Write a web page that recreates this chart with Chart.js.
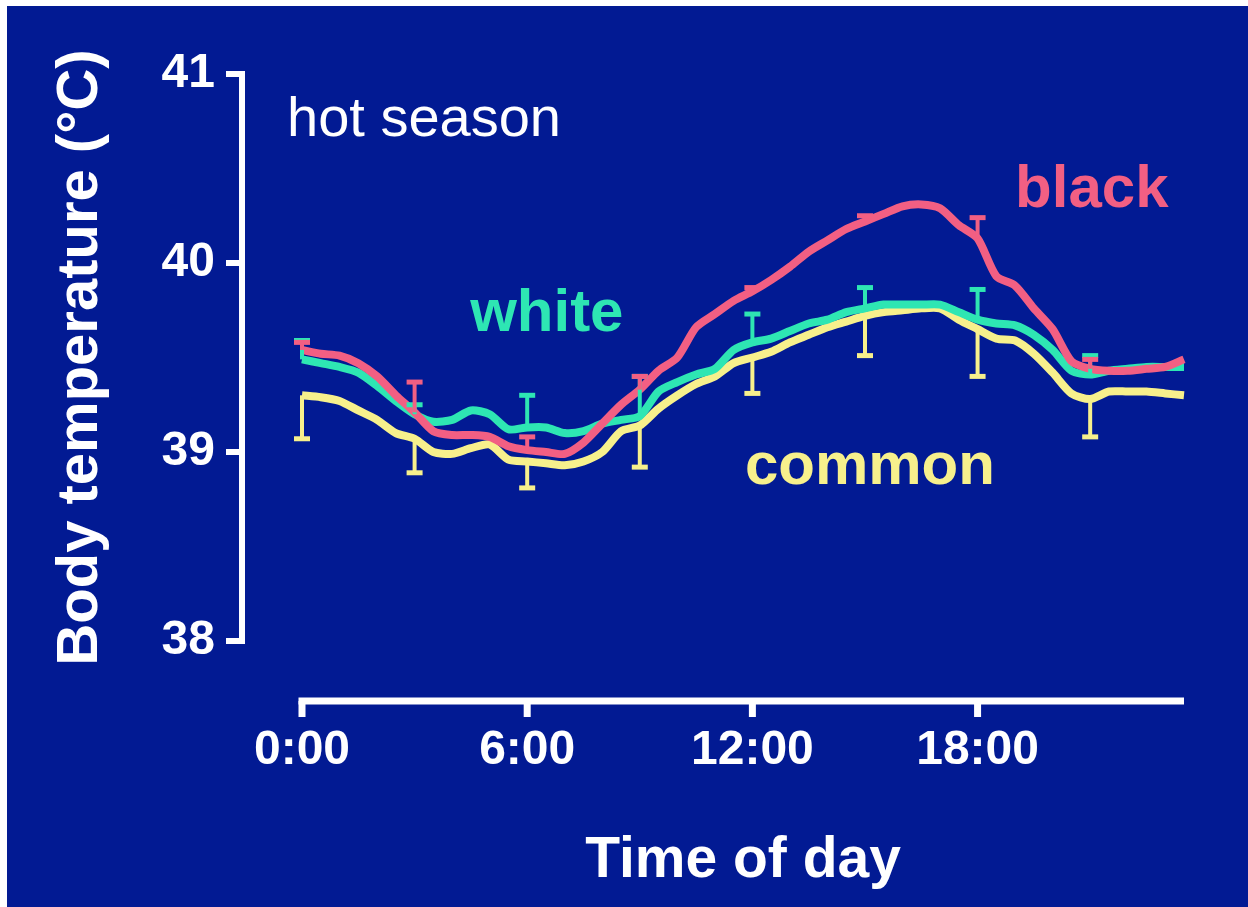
<!DOCTYPE html>
<html lang="en">
<head>
<meta charset="UTF-8">
<title>Body temperature - hot season</title>
<script src="https://cdn.jsdelivr.net/npm/chart.js"></script>
<style>
  body { margin: 0; background: #ffffff; }
  canvas { display: block; }
</style>
</head>
<body>
<canvas id="tempChart" width="1248" height="907"></canvas>
<script>
// time of day in hours, half-hour steps
const hours = [0, 0.5, 1, 1.5, 2, 2.5, 3, 3.5, 4, 4.5, 5, 5.5, 6, 6.5, 7, 7.5,
               8, 8.5, 9, 9.5, 10, 10.5, 11, 11.5, 12, 12.5, 13, 13.5, 14, 14.5, 15, 15.5,
               16, 16.5, 17, 17.5, 18, 18.5, 19, 19.5, 20, 20.5, 21, 21.5, 22, 22.5, 23, 23.5];

const blackTemp = [39.54, 39.52, 39.51, 39.47, 39.40, 39.30, 39.21, 39.11, 39.09, 39.09, 39.08, 39.03, 39.01, 39.00, 38.99, 39.05,
                   39.15, 39.25, 39.33, 39.43, 39.50, 39.66, 39.73, 39.80, 39.85, 39.91, 39.98, 40.06, 40.12, 40.18, 40.22, 40.26,
                   40.30, 40.31, 40.29, 40.20, 40.13, 39.93, 39.88, 39.76, 39.65, 39.48, 39.44, 39.43, 39.43, 39.44, 39.45, 39.49];

const whiteTemp = [39.49, 39.47, 39.45, 39.42, 39.35, 39.27, 39.20, 39.16, 39.17, 39.22, 39.20, 39.12, 39.13, 39.13, 39.10, 39.11,
                   39.15, 39.17, 39.19, 39.32, 39.37, 39.41, 39.44, 39.54, 39.58, 39.60, 39.64, 39.68, 39.70, 39.74, 39.76, 39.78,
                   39.78, 39.78, 39.78, 39.74, 39.70, 39.68, 39.67, 39.62, 39.54, 39.43, 39.41, 39.43, 39.44, 39.45, 39.45, 39.45];

const commonTemp = [39.30, 39.29, 39.27, 39.22, 39.17, 39.10, 39.07, 39.00, 38.99, 39.02, 39.04, 38.96, 38.95, 38.94, 38.93, 38.95,
                    39.00, 39.11, 39.14, 39.23, 39.30, 39.36, 39.40, 39.47, 39.50, 39.53, 39.58, 39.62, 39.66, 39.69, 39.72, 39.74,
                    39.75, 39.76, 39.76, 39.70, 39.65, 39.60, 39.59, 39.52, 39.42, 39.31, 39.28, 39.32, 39.32, 39.32, 39.31, 39.30];

// error bars every 3 h (black and white drawn upward, common downward)
const errHours = [0, 3, 6, 9, 12, 15, 18, 21];
const blackErr = [0.04, 0.16, 0.07, 0.07, 0.02, 0.03, 0.11, 0.05];
const whiteErr = [0.10, 0.05, 0.17, 0.21, 0.15, 0.11, 0.16, 0.10];
const commonErr = [0.23, 0.18, 0.14, 0.22, 0.19, 0.21, 0.25, 0.20];

const yTicks = [38, 39, 40, 41];
const xTicks = [0, 6, 12, 18];

const BG = '#021a93';
const PINK = '#f25f83';
const TEAL = '#2ee6b3';
const YELLOW = '#f7f08c';
const FONT = "'Liberation Sans', Arial, sans-serif";

const AXIS_GAP = 60; // prism-style detached axes

function points(vals) {
    return hours.map((h, i) => ({ x: h, y: vals[i] }));
}

function valueAt(vals, h) {
    return vals[hours.indexOf(h)];
}

const seriesLabels = [
    { text: 'black', color: PINK, h: 19.0, v: 40.296 },
    { text: 'white', color: TEAL, h: 4.48, v: 39.64 },
    { text: 'common', color: YELLOW, h: 11.8, v: 38.83 }
];

const background = {
    id: 'background',
    beforeDraw(chart) {
        const ctx = chart.ctx;
        ctx.save();
        ctx.fillStyle = '#ffffff';
        ctx.fillRect(0, 0, chart.width, chart.height);
        ctx.fillStyle = BG;
        ctx.fillRect(7, 6, chart.width - 7, chart.height - 6);
        ctx.restore();
    }
};

const axisLines = {
    id: 'axisLines',
    afterDraw(chart) {
        const { ctx, chartArea, scales: { x, y } } = chart;
        ctx.save();
        ctx.strokeStyle = '#ffffff';
        ctx.lineCap = 'square';

        // y axis
        const ax = chartArea.left - AXIS_GAP;
        ctx.lineWidth = 6;
        ctx.beginPath();
        ctx.moveTo(ax, y.getPixelForValue(yTicks[yTicks.length - 1]));
        ctx.lineTo(ax, y.getPixelForValue(yTicks[0]));
        yTicks.forEach(v => {
            const py = y.getPixelForValue(v);
            ctx.moveTo(ax, py);
            ctx.lineTo(ax - 13, py);
        });
        ctx.stroke();

        // x axis
        const ay = chartArea.bottom + AXIS_GAP;
        ctx.lineCap = 'butt';
        ctx.lineWidth = 7;
        ctx.beginPath();
        ctx.moveTo(x.getPixelForValue(0) - 3.5, ay);
        ctx.lineTo(x.getPixelForValue(x.max), ay);
        ctx.stroke();
        ctx.beginPath();
        xTicks.forEach(h => {
            const px = x.getPixelForValue(h);
            ctx.moveTo(px, ay);
            ctx.lineTo(px, ay + 16);
        });
        ctx.stroke();
        ctx.restore();
    }
};

const errorBars = {
    id: 'errorBars',
    afterDatasetsDraw(chart) {
        const { ctx, scales: { x, y } } = chart;
        ctx.save();
        chart.data.datasets.slice().reverse().forEach(ds => {
            ctx.strokeStyle = ds.borderColor;
            errHours.forEach((h, i) => {
                const mean = valueAt(ds.temps, h);
                const end = mean + ds.errDir * ds.errs[i];
                const px = x.getPixelForValue(h);
                const p0 = y.getPixelForValue(mean);
                const p1 = y.getPixelForValue(end);
                ctx.lineWidth = 4;
                ctx.beginPath();
                ctx.moveTo(px, p0);
                ctx.lineTo(px, p1);
                ctx.stroke();
                ctx.lineWidth = 5;
                ctx.beginPath();
                ctx.moveTo(px - 8, p1);
                ctx.lineTo(px + 8, p1);
                ctx.stroke();
            });
        });
        ctx.restore();
    }
};

const textLabels = {
    id: 'textLabels',
    afterDraw(chart) {
        const { ctx, scales: { x, y } } = chart;
        ctx.save();
        ctx.textBaseline = 'alphabetic';
        ctx.textAlign = 'left';
        ctx.fillStyle = '#ffffff';
        ctx.font = '56px ' + FONT;
        ctx.fillText('hot season', x.getPixelForValue(-0.4), y.getPixelForValue(40.672));
        ctx.font = 'bold 60px ' + FONT;
        seriesLabels.forEach(l => {
            ctx.fillStyle = l.color;
            ctx.fillText(l.text, x.getPixelForValue(l.h), y.getPixelForValue(l.v));
        });
        ctx.restore();
    }
};

new Chart(document.getElementById('tempChart'), {
    type: 'line',
    data: {
        datasets: [
            { label: 'black', data: points(blackTemp), temps: blackTemp, errs: blackErr, errDir: 1, borderColor: PINK },
            { label: 'white', data: points(whiteTemp), temps: whiteTemp, errs: whiteErr, errDir: 1, borderColor: TEAL },
            { label: 'common', data: points(commonTemp), temps: commonTemp, errs: commonErr, errDir: -1, borderColor: YELLOW }
        ]
    },
    options: {
        responsive: false,
        animation: false,
        layout: { padding: { top: 74, right: 64, left: 0, bottom: 0 } },
        datasets: {
            line: { borderWidth: 8, pointRadius: 0, tension: 0.25, clip: false, fill: false }
        },
        plugins: { legend: { display: false }, tooltip: { enabled: false } },
        scales: {
            x: {
                type: 'linear',
                min: 0,
                max: 23.5,
                afterFit: s => { s.height = 266; s.paddingLeft = 0; s.paddingRight = 0; },
                afterBuildTicks: s => { s.ticks = xTicks.map(v => ({ value: v })); },
                grid: { display: false, drawTicks: false },
                border: { display: false },
                ticks: {
                    color: '#ffffff',
                    padding: 81,
                    maxRotation: 0,
                    font: { family: FONT, size: 48, weight: 'bold' },
                    callback: v => v + ':00'
                },
                title: {
                    display: true,
                    text: 'Time of day',
                    color: '#ffffff',
                    font: { family: FONT, size: 57, weight: 'bold' },
                    padding: { top: 0, bottom: 12 }
                }
            },
            y: {
                min: 38,
                max: 41,
                afterFit: s => { s.width = 302; s.paddingTop = 0; s.paddingBottom = 0; },
                afterBuildTicks: s => { s.ticks = yTicks.map(v => ({ value: v })); },
                grid: { display: false, drawTicks: false },
                border: { display: false },
                ticks: {
                    color: '#ffffff',
                    padding: 87,
                    font: { family: FONT, size: 48, weight: 'bold' }
                },
                title: {
                    display: true,
                    text: 'Body temperature (°C)',
                    color: '#ffffff',
                    font: { family: FONT, size: 58, weight: 'bold' },
                    padding: { top: 46, bottom: 0 }
                }
            }
        }
    },
    plugins: [background, errorBars, axisLines, textLabels]
});
</script>
</body>
</html>
